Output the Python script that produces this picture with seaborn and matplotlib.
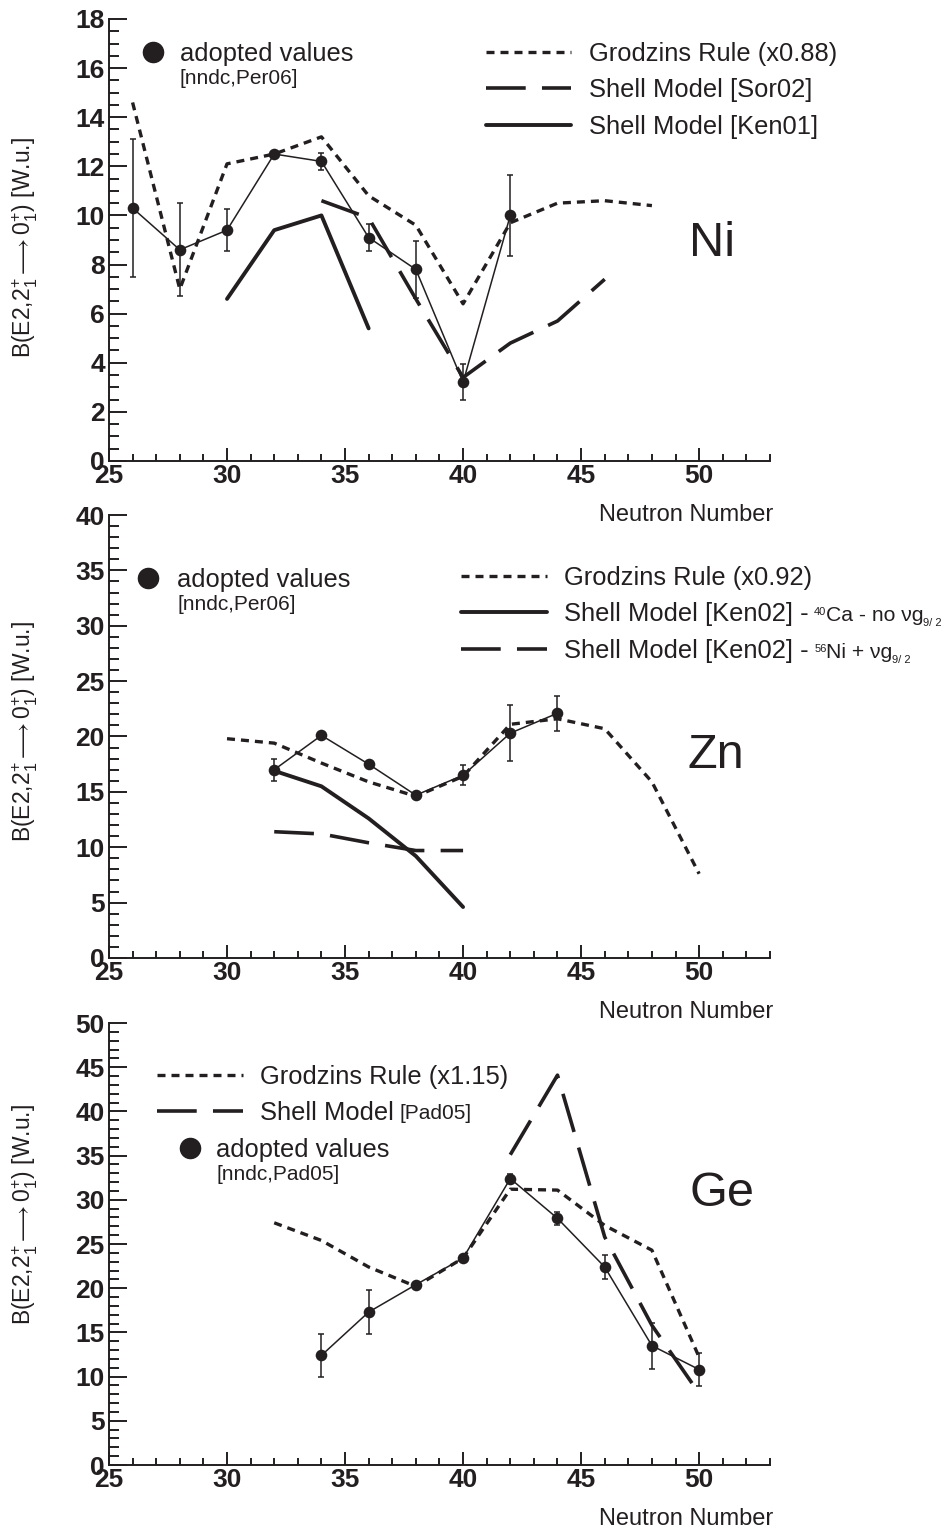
import numpy as np
import pandas as pd
import matplotlib
matplotlib.use("Agg")
import matplotlib.pyplot as plt
from matplotlib.lines import Line2D
from matplotlib.ticker import MultipleLocator
import seaborn as sns

# ---------------- data ----------------
# Ni
ni_n = [26, 28, 30, 32, 34, 36, 38, 40, 42]
ni_be2 = [10.3, 8.6, 9.4, 12.5, 12.2, 9.1, 7.8, 3.2, 10.0]
ni_err = [2.8, 1.9, 0.85, 0.1, 0.33, 0.55, 1.15, 0.73, 1.65]
ni_grod_n = [26, 28, 30, 32, 34, 36, 38, 40, 42, 44, 46, 48]
ni_grod = [14.6, 7.0, 12.1, 12.5, 13.2, 10.8, 9.6, 6.4, 9.7, 10.5, 10.6, 10.4]
ni_sor_n = [34, 36, 38, 40, 42, 44, 46]
ni_sor = [10.6, 9.9, 6.6, 3.4, 4.8, 5.7, 7.4]
ni_ken_n = [30, 32, 34, 36]
ni_ken = [6.6, 9.4, 10.0, 5.4]

# Zn
zn_n = [32, 34, 36, 38, 40, 42, 44]
zn_be2 = [17.0, 20.1, 17.5, 14.7, 16.5, 20.3, 22.1]
zn_err = [1.0, 0.3, 0.2, 0.2, 0.9, 2.5, 1.6]
zn_grod_n = [30, 32, 34, 36, 38, 40, 42, 44, 46, 48, 50]
zn_grod = [19.8, 19.4, 17.6, 15.9, 14.6, 16.4, 21.1, 21.6, 20.7, 15.9, 7.6]
zn_ca_n = [32, 34, 36, 38, 40]
zn_ca = [16.9, 15.5, 12.6, 9.2, 4.6]
zn_ni_n = [32, 34, 36, 38, 40]
zn_ni = [11.4, 11.2, 10.4, 9.7, 9.7]

# Ge
ge_n = [34, 36, 38, 40, 42, 44, 46, 48, 50]
ge_be2 = [12.4, 17.3, 20.4, 23.4, 32.4, 27.9, 22.4, 13.5, 10.8]
ge_err = [2.4, 2.5, 0.3, 0.3, 0.5, 0.75, 1.4, 2.6, 1.9]
ge_grod_n = [32, 34, 36, 38, 40, 42, 44, 46, 48, 50]
ge_grod = [27.4, 25.4, 22.4, 20.2, 23.4, 31.2, 31.1, 27.1, 24.3, 12.2]
ge_pad_n = [42, 44, 46, 48, 50]
ge_pad = [35.1, 44.1, 25.8, 15.8, 8.1]

xticks = [25, 30, 35, 40, 45, 50]
ylabel = r"B(E2,2$^{+}_{1}$$\longrightarrow$0$^{+}_{1}$) [W.u.]"

# ---------------- style ----------------
sns.set_theme(style="ticks")
INK = "#231f20"
plt.rcParams["font.family"] = ["Liberation Sans", "DejaVu Sans"]
plt.rcParams["mathtext.fontset"] = "custom"
plt.rcParams["mathtext.rm"] = "Liberation Sans"
plt.rcParams["mathtext.it"] = "Liberation Sans:italic"
plt.rcParams["mathtext.bf"] = "Liberation Sans:bold"
plt.rcParams["text.color"] = INK
plt.rcParams["axes.edgecolor"] = INK

GROD = dict(color=INK, lw=2.4, linestyle=(0, (2.4, 1.8)))
SMD = dict(color=INK, lw=2.6, linestyle=(0, (11, 4.5)))
SMS = dict(color=INK, lw=2.8, linestyle="-")
FS = 18.4
SMALL = 8
MID = 15.2

fig = plt.figure(figsize=(9.46, 15.31), dpi=100)
ax_ni = fig.add_axes([0.1152, 0.6989, 0.6987, 0.2887])
ax_zn = fig.add_axes([0.1152, 0.3743, 0.6987, 0.2893])
ax_ge = fig.add_axes([0.1152, 0.0431, 0.6987, 0.2887])
for a in (ax_ni, ax_zn, ax_ge):
    a.patch.set_visible(False)
ax_ni.set_zorder(3)
ax_zn.set_zorder(2)
ax_ge.set_zorder(1)


def frame(ax, ymax, ymaj, ymin, ylab_y):
    sns.despine(ax=ax)
    ax.set_xlim(25, 53)
    ax.set_ylim(0, ymax)
    ax.xaxis.set_major_locator(MultipleLocator(5))
    ax.xaxis.set_minor_locator(MultipleLocator(1))
    ax.yaxis.set_major_locator(MultipleLocator(ymaj))
    ax.yaxis.set_minor_locator(MultipleLocator(ymin))
    ax.set_xticks(xticks)
    ax.tick_params(which="both", direction="in", width=1.4, color=INK)
    ax.tick_params(axis="x", which="major", length=9.5, pad=2)
    ax.tick_params(axis="x", which="minor", length=5)
    ax.tick_params(axis="y", which="major", length=13, pad=3)
    ax.tick_params(axis="y", which="minor", length=7)
    for lab in ax.get_xticklabels() + ax.get_yticklabels():
        lab.set_fontsize(19)
        lab.set_fontweight("bold")
        lab.set_color(INK)
    for s in ("left", "bottom"):
        ax.spines[s].set_linewidth(1.4)
    ax.set_ylabel(ylabel, fontsize=16.5, color=INK)
    ax.yaxis.set_label_coords(-0.104, ylab_y)
    ax.set_xlabel("Neutron Number", fontsize=17, color=INK, ha="right")
    ax.xaxis.set_label_coords(1.005, -0.097)


def data(ax, n, v, e):
    ax.errorbar(n, v, yerr=e, fmt="none", ecolor=INK, elinewidth=1.1,
                capsize=2.3, capthick=1.1, zorder=4)
    sns.lineplot(x=n, y=v, ax=ax, color=INK, lw=1.1, zorder=4)
    sns.scatterplot(x=n, y=v, ax=ax, color=INK, s=70, edgecolor=INK,
                    linewidth=0, zorder=5)


def model(ax, n, v, kw):
    sns.lineplot(x=n, y=v, ax=ax, zorder=3, **kw)


def legends(ax, items, line_anchor, dot_anchor, dot_pad, ref_text):
    hs = [Line2D([], [], **kw) for kw, _ in items]
    lg = ax.legend(hs, [t for _, t in items], loc="upper left",
                   bbox_to_anchor=line_anchor, frameon=False, fontsize=FS,
                   handlelength=3.35, handletextpad=0.68, labelspacing=0.5,
                   borderpad=0, borderaxespad=0)
    ax.add_artist(lg)
    dot = Line2D([], [], marker="o", ls="none", color=INK, ms=14.5)
    lg2 = ax.legend([dot], ["adopted values"], loc="upper left",
                    bbox_to_anchor=dot_anchor, frameon=False, fontsize=FS,
                    handlelength=1.2, handletextpad=dot_pad,
                    borderpad=0, borderaxespad=0)
    ax.annotate(ref_text, xy=(0, 0), xycoords=lg2.get_texts()[0],
                xytext=(0, -2.2), textcoords="offset points",
                ha="left", va="top", fontsize=15, color=INK, zorder=10)
    return lg


def after(ax, prev, s, fs, dx, dy, yref=None, va="bottom", yfrac=0):
    coords = prev if yref is None else (prev, yref)
    return ax.annotate(s, xy=(1, yfrac), xycoords=coords, xytext=(dx, dy),
                       textcoords="offset points", ha="left", va=va,
                       fontsize=fs, color=INK, zorder=10)


# ---------------- Ni ----------------
frame(ax_ni, 18, 2, 0.5, 0.483)
model(ax_ni, ni_grod_n, ni_grod, GROD)
model(ax_ni, ni_sor_n, ni_sor, SMD)
model(ax_ni, ni_ken_n, ni_ken, SMS)
data(ax_ni, ni_n, ni_be2, ni_err)
legends(ax_ni,
        [(GROD, "Grodzins Rule (x0.88)"),
         (SMD, "Shell Model [Sor02]"),
         (SMS, "Shell Model [Ken01]")],
        (0.570, 0.949), (0.043, 0.948), 0.46, "[nndc,Per06]")
ax_ni.text(0.912, 0.491, "Ni", transform=ax_ni.transAxes, fontsize=35,
           ha="center", va="center", color=INK)

# ---------------- Zn ----------------
frame(ax_zn, 40, 5, 1, 0.511)
model(ax_zn, zn_grod_n, zn_grod, GROD)
model(ax_zn, zn_ca_n, zn_ca, SMS)
model(ax_zn, zn_ni_n, zn_ni, SMD)
data(ax_zn, zn_n, zn_be2, zn_err)
lgz = legends(ax_zn,
              [(GROD, "Grodzins Rule (x0.92)"),
               (SMS, "Shell Model [Ken02] -"),
               (SMD, "Shell Model [Ken02] -")],
              (0.5325, 0.886), (0.036, 0.881), 0.54, "[nndc,Per06]")
zt = lgz.get_texts()
s1 = after(ax_zn, zt[1], "40", SMALL, 4, -3.5, va="top", yfrac=1)
m1 = after(ax_zn, s1, "Ca - no νg", MID, 0, 0.7, yref=zt[1])
after(ax_zn, m1, "9/ 2", SMALL, -0.3, -2.0)
s2 = after(ax_zn, zt[2], "56", SMALL, 4, -3.5, va="top", yfrac=1)
m2 = after(ax_zn, s2, "Ni + νg", MID, 0, 0.7, yref=zt[2])
after(ax_zn, m2, "9/ 2", SMALL, -0.3, -2.0)
ax_zn.text(0.918, 0.458, "Zn", transform=ax_zn.transAxes, fontsize=35,
           ha="center", va="center", color=INK)

# ---------------- Ge ----------------
frame(ax_ge, 50, 5, 1, 0.566)
model(ax_ge, ge_grod_n, ge_grod, GROD)
model(ax_ge, ge_pad_n, ge_pad, SMD)
data(ax_ge, ge_n, ge_be2, ge_err)
lgg = legends(ax_ge,
              [(GROD, "Grodzins Rule (x1.15)"),
               (SMD, "Shell Model")],
              (0.0726, 0.906), (0.0994, 0.740), 0.42, "[nndc,Pad05]")
after(ax_ge, lgg.get_texts()[1], "[Pad05]", 15, 4, 1.5)
ax_ge.text(0.927, 0.615, "Ge", transform=ax_ge.transAxes, fontsize=35,
           ha="center", va="center", color=INK)

fig.canvas.draw()
fig.savefig("out.png", dpi=100)
